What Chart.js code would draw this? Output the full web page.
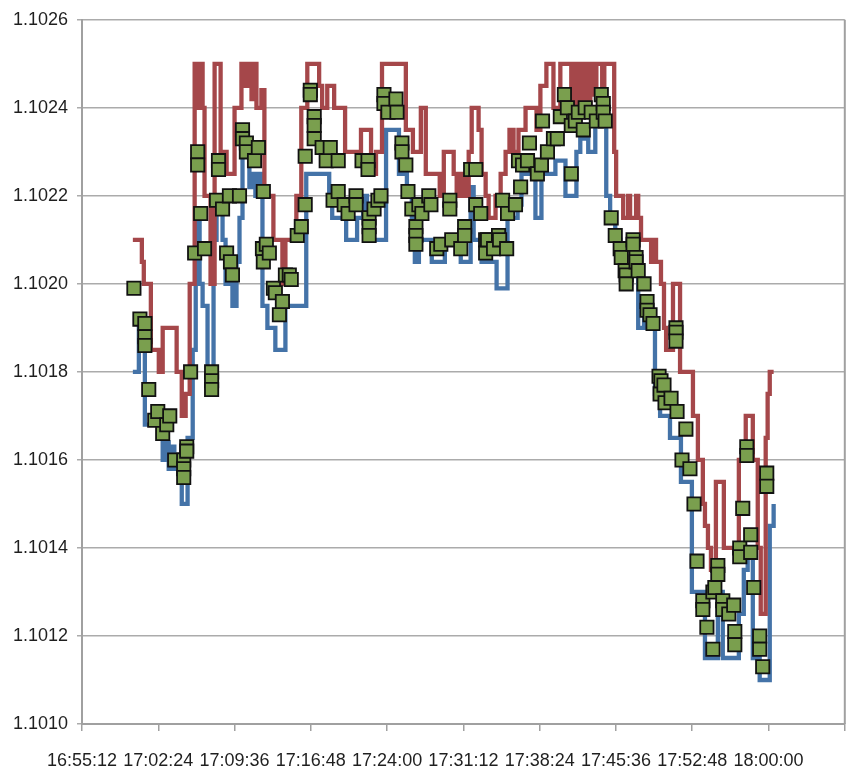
<!DOCTYPE html>
<html>
<head>
<meta charset="utf-8">
<script src="https://cdn.jsdelivr.net/npm/chart.js@4.4.1/dist/chart.umd.min.js"></script>
<style>
  html, body { margin: 0; padding: 0; background: #fff; }
</style>
</head>
<body>
<canvas id="quoteChart" width="856" height="769"></canvas>
<script>
// axis range (time of day) and price range
var axisStart = '16:55:12';
var axisEnd = '18:07:12';
var priceTicks = [1.1010, 1.1012, 1.1014, 1.1016, 1.1018, 1.1020, 1.1022, 1.1024, 1.1026];

// trades (green squares)
var tradeTimes = [
  '17:00:06','17:00:40','17:01:08','17:01:08','17:01:08','17:01:30','17:02:04','17:02:21','17:02:49','17:03:12',
  '17:03:29','17:03:57','17:04:48','17:04:48','17:04:48','17:05:05','17:05:05','17:05:27','17:05:50','17:06:07',
  '17:06:07','17:06:24','17:06:46','17:07:26','17:07:26','17:07:26','17:07:54','17:08:05','17:08:05','17:08:28',
  '17:08:51','17:09:07','17:09:13','17:09:24','17:10:04','17:10:21','17:10:21','17:10:43','17:10:43','17:11:29',
  '17:11:51','17:12:14','17:12:19','17:12:19','17:12:36','17:12:53','17:13:16','17:13:27','17:13:50','17:14:07',
  '17:14:24','17:14:46','17:14:57','17:15:31','17:15:54','17:16:16','17:16:16','17:16:45','17:16:45','17:17:07',
  '17:17:07','17:17:07','17:17:52','17:18:15','17:18:38','17:18:54','17:19:23','17:19:23','17:19:57','17:20:19',
  '17:21:04','17:21:04','17:21:38','17:22:12','17:22:12','17:22:18','17:22:18','17:22:18','17:22:46','17:23:08',
  '17:23:25','17:23:42','17:23:42','17:24:05','17:24:50','17:24:56','17:25:24','17:25:24','17:25:46','17:25:58',
  '17:26:20','17:26:43','17:26:43','17:26:43','17:27:00','17:27:17','17:27:56','17:28:08','17:28:41','17:29:04',
  '17:29:55','17:29:55','17:30:06','17:30:57','17:31:19','17:31:19','17:31:53','17:32:22','17:32:22','17:32:50',
  '17:33:18','17:33:18','17:33:29','17:34:03','17:34:31','17:34:37','17:34:54','17:35:17','17:35:22','17:36:07',
  '17:36:24','17:36:36','17:36:47','17:37:15','17:37:26','17:38:11','17:38:34','17:38:40','17:39:08','17:39:42',
  '17:40:04','17:40:21','17:40:44','17:41:01','17:41:23','17:41:23','17:41:46','17:42:03','17:42:31','17:42:42',
  '17:43:16','17:43:45','17:44:13','17:44:24','17:44:24','17:44:35','17:45:09','17:45:32','17:46:00','17:46:06',
  '17:46:28','17:46:34','17:46:34','17:47:13','17:47:13','17:47:30','17:47:30','17:47:42','17:48:15','17:48:32',
  '17:48:32','17:48:49','17:49:06','17:49:40','17:49:46','17:49:51','17:50:08','17:50:14','17:50:48','17:51:16',
  '17:51:16','17:51:16','17:51:22','17:51:50','17:52:12','17:52:35','17:52:58','17:53:15','17:53:48','17:53:48',
  '17:54:11','17:54:45','17:54:45','17:54:56','17:55:13','17:55:13','17:55:41','17:55:41','17:56:15','17:56:43',
  '17:56:49','17:56:49','17:57:17','17:57:17','17:57:34','17:57:57','17:57:57','17:58:19','17:58:19','17:58:36',
  '17:59:10','17:59:10','17:59:27','17:59:50','17:59:50'
];
var tradePrices = [
  1.10199,1.10192,1.10191,1.10188,1.10186,1.10176,1.10169,1.10171,1.10166,1.10168,
  1.10170,1.10160,1.10160,1.10158,1.10156,1.10163,1.10162,1.10180,1.10207,1.10230,
  1.10227,1.10216,1.10208,1.10180,1.10178,1.10176,1.10219,1.10228,1.10226,1.10217,
  1.10207,1.10220,1.10205,1.10202,1.10220,1.10235,1.10233,1.10232,1.10230,1.10228,
  1.10231,1.10208,1.10221,1.10205,1.10209,1.10207,1.10199,1.10198,1.10193,1.10196,
  1.10202,1.10202,1.10201,1.10211,1.10213,1.10229,1.10218,1.10244,1.10243,1.10238,
  1.10236,1.10233,1.10231,1.10228,1.10231,1.10219,1.10228,1.10221,1.10218,1.10216,
  1.10220,1.10218,1.10228,1.10228,1.10226,1.10215,1.10213,1.10211,1.10217,1.10219,
  1.10220,1.10243,1.10241,1.10239,1.10242,1.10239,1.10232,1.10230,1.10227,1.10221,
  1.10217,1.10213,1.10211,1.10209,1.10218,1.10216,1.10220,1.10218,1.10208,1.10209,
  1.10219,1.10217,1.10210,1.10208,1.10213,1.10211,1.10226,1.10226,1.10218,1.10216,
  1.10210,1.10207,1.10210,1.10208,1.10211,1.10210,1.10219,1.10208,1.10216,1.10218,
  1.10228,1.10222,1.10227,1.10228,1.10232,1.10225,1.10227,1.10237,1.10230,1.10233,
  1.10233,1.10238,1.10243,1.10240,1.10225,1.10236,1.10237,1.10239,1.10235,1.10240,
  1.10239,1.10237,1.10243,1.10241,1.10239,1.10237,1.10215,1.10211,1.10208,1.10206,
  1.10203,1.10202,1.10200,1.10210,1.10209,1.10206,1.10205,1.10203,1.10200,1.10196,
  1.10194,1.10193,1.10191,1.10179,1.10175,1.10178,1.10177,1.10173,1.10174,1.10190,
  1.10189,1.10187,1.10171,1.10160,1.10167,1.10158,1.10150,1.10137,1.10128,1.10126,
  1.10122,1.10117,1.10130,1.10131,1.10136,1.10134,1.10128,1.10126,1.10125,1.10127,
  1.10121,1.10118,1.10140,1.10138,1.10149,1.10163,1.10161,1.10143,1.10139,1.10131,
  1.10120,1.10117,1.10113,1.10157,1.10154
];

// ask quotes (red step line)
var askTimes = [
  '17:00:00','17:00:51','17:01:02','17:01:42','17:02:27','17:02:49','17:04:08','17:04:37','17:04:59','17:05:22',
  '17:05:50','17:06:07','17:06:18','17:06:35','17:06:46','17:07:20','17:07:43','17:08:17','17:08:51','17:09:36',
  '17:10:15','17:10:38','17:10:55','17:11:12','17:11:23','17:11:40','17:12:08','17:12:25','17:13:16','17:14:07',
  '17:14:24','17:15:26','17:15:54','17:16:28','17:17:35','17:17:52','17:18:21','17:19:00','17:20:02','17:21:32',
  '17:22:29','17:22:57','17:23:31','17:25:46','17:26:26','17:27:11','17:27:39','17:28:58','17:29:21','17:30:17',
  '17:30:34','17:30:57','17:31:19','17:31:42','17:31:59','17:32:38','17:32:55','17:33:18','17:33:35','17:34:14',
  '17:34:43','17:35:11','17:35:33','17:35:56','17:36:24','17:37:04','17:38:06','17:38:28','17:39:02','17:39:42',
  '17:40:21','17:41:23','17:41:35','17:41:52','17:42:03','17:42:20','17:42:37','17:42:54','17:43:11','17:43:28',
  '17:43:45','17:44:18','17:44:30','17:45:26','17:45:37','17:46:17','17:46:45','17:46:56','17:47:30','17:47:42',
  '17:47:58','17:48:55','17:49:06','17:49:23','17:49:51','17:50:08','17:50:20','17:50:59','17:51:39','17:52:52',
  '17:53:20','17:53:48','17:54:00','17:54:17','17:54:34','17:55:02','17:55:47','17:57:12','17:57:51','17:58:31',
  '17:58:59','17:59:16','17:59:44','17:59:55','18:00:07','18:00:29'
];
var askPrices = [
  1.10210,1.10205,1.10200,1.10185,1.10180,1.10190,1.10180,1.10170,1.10175,1.10200,
  1.10250,1.10240,1.10250,1.10240,1.10220,1.10200,1.10250,1.10230,1.10225,1.10240,
  1.10250,1.10245,1.10250,1.10242,1.10250,1.10240,1.10244,1.10220,1.10210,1.10200,
  1.10210,1.10220,1.10240,1.10250,1.10245,1.10240,1.10245,1.10240,1.10230,1.10235,
  1.10225,1.10230,1.10250,1.10235,1.10230,1.10240,1.10225,1.10220,1.10230,1.10225,
  1.10220,1.10225,1.10220,1.10230,1.10240,1.10235,1.10225,1.10220,1.10215,1.10220,
  1.10225,1.10230,1.10235,1.10230,1.10235,1.10240,1.10235,1.10245,1.10250,1.10240,
  1.10250,1.10240,1.10250,1.10240,1.10250,1.10238,1.10250,1.10240,1.10250,1.10243,
  1.10250,1.10245,1.10250,1.10230,1.10220,1.10215,1.10220,1.10215,1.10220,1.10215,
  1.10210,1.10205,1.10210,1.10205,1.10200,1.10190,1.10185,1.10200,1.10180,1.10170,
  1.10160,1.10150,1.10145,1.10140,1.10135,1.10155,1.10140,1.10160,1.10170,1.10160,
  1.10140,1.10125,1.10165,1.10175,1.10180,1.10180
];

// bid quotes (blue step line)
var bidTimes = [
  '17:00:00','17:00:34','17:01:08','17:02:32','17:02:49','17:03:06','17:03:23','17:03:40','17:03:55','17:04:37',
  '17:05:10','17:05:39','17:05:56','17:06:18','17:06:35','17:07:03','17:07:37','17:07:54','17:08:28','17:08:45',
  '17:09:24','17:09:47','17:10:04','17:10:21','17:11:00','17:11:17','17:11:34','17:11:51','17:12:14','17:12:42',
  '17:13:27','17:14:24','17:16:22','17:18:32','17:18:49','17:20:08','17:21:10','17:21:44','17:22:06','17:23:54',
  '17:25:07','17:25:52','17:26:20','17:26:37','17:27:00','17:28:13','17:29:27','17:30:57','17:31:53','17:32:10',
  '17:32:55','17:34:20','17:35:22','17:36:19','17:36:41','17:37:26','17:38:00','17:38:34','17:39:53','17:40:50',
  '17:41:52','17:42:14','17:42:59','17:43:39','17:44:41','17:45:03','17:45:32','17:46:00','17:46:28','17:47:02',
  '17:47:42','17:48:15','17:48:38','17:49:17','17:49:46','17:50:42','17:51:44','17:52:46','17:54:00','17:55:13',
  '17:55:41','17:57:12','17:57:40','17:58:02','17:58:31','17:59:10','18:00:07','18:00:29'
];
var bidPrices = [
  1.10180,1.10190,1.10168,1.10165,1.10160,1.10164,1.10158,1.10163,1.10158,1.10150,
  1.10165,1.10185,1.10215,1.10200,1.10195,1.10175,1.10210,1.10218,1.10210,1.10200,
  1.10195,1.10205,1.10215,1.10230,1.10222,1.10225,1.10220,1.10225,1.10195,1.10190,
  1.10185,1.10195,1.10225,1.10220,1.10215,1.10210,1.10215,1.10220,1.10210,1.10235,
  1.10225,1.10220,1.10215,1.10205,1.10210,1.10205,1.10210,1.10205,1.10222,1.10210,
  1.10205,1.10199,1.10215,1.10218,1.10225,1.10228,1.10215,1.10225,1.10228,1.10220,
  1.10230,1.10233,1.10230,1.10236,1.10220,1.10215,1.10210,1.10205,1.10200,1.10205,
  1.10190,1.10192,1.10190,1.10175,1.10170,1.10165,1.10155,1.10130,1.10115,1.10130,
  1.10115,1.10125,1.10135,1.10138,1.10115,1.10110,1.10145,1.10150
];

function toSec(t) {
  var p = t.split(':');
  return (+p[0]) * 3600 + (+p[1]) * 60 + (+p[2]);
}
function pad(n) { return (n < 10 ? '0' : '') + n; }
function pairs(times, prices) {
  return times.map(function (t, i) { return { x: toSec(t), y: prices[i] }; });
}

var labelFont = { family: "'Liberation Sans', Arial, sans-serif", size: 18 };
var axisColor = '#a0a0a0';
var xMin = toSec(axisStart);
var xMax = toSec(axisEnd);

// right edge of the plot frame
var frameRight = {
  id: 'frameRight',
  afterDraw: function (chart) {
    var a = chart.chartArea, ctx = chart.ctx;
    ctx.save();
    ctx.strokeStyle = axisColor;
    ctx.lineWidth = 2;
    ctx.beginPath();
    ctx.moveTo(a.right, a.top);
    ctx.lineTo(a.right, a.bottom);
    ctx.stroke();
    ctx.restore();
  }
};

var quoteChart = new Chart(document.getElementById('quoteChart'), {
  type: 'scatter',
  data: {
    datasets: [{
      label: 'Trades',
      data: pairs(tradeTimes, tradePrices),
      pointStyle: 'rect',
      pointRadius: 9.4,
      backgroundColor: '#7a9f4e',
      borderColor: '#111111',
      borderWidth: 1.8
    }, {
      label: 'Ask',
      type: 'line',
      data: pairs(askTimes, askPrices),
      stepped: 'before',
      borderColor: '#a5474a',
      borderWidth: 4.3,
      pointRadius: 0,
      fill: false
    }, {
      label: 'Bid',
      type: 'line',
      data: pairs(bidTimes, bidPrices),
      stepped: 'before',
      borderColor: '#4473a8',
      borderWidth: 4.3,
      pointRadius: 0,
      fill: false
    }]
  },
  options: {
    responsive: false,
    animation: false,
    devicePixelRatio: 1,
    layout: { padding: { top: 15, right: 8, left: 0, bottom: 0 } },
    plugins: { legend: { display: false }, tooltip: { enabled: false } },
    scales: {
      x: {
        type: 'linear',
        min: xMin,
        max: xMax,
        afterFit: function (s) { s.height = 45; s.paddingRight = 0; },
        grid: { drawOnChartArea: false, drawTicks: true, tickLength: 7, color: axisColor, lineWidth: 1.5 },
        border: { color: axisColor, width: 2 },
        ticks: {
          stepSize: 432,
          autoSkip: false,
          maxRotation: 0,
          minRotation: 0,
          padding: 19,
          color: '#1f1f1f',
          font: labelFont,
          callback: function (value) {
            if (value >= xMax - 1) return '';
            var s = Math.round(value);
            return Math.floor(s / 3600) + ':' + pad(Math.floor(s % 3600 / 60)) + ':' + pad(s % 60);
          }
        }
      },
      y: {
        min: priceTicks[0],
        max: priceTicks[priceTicks.length - 1],
        afterFit: function (s) { s.width = 82; },
        afterBuildTicks: function (s) { s.ticks = priceTicks.map(function (v) { return { value: v }; }); },
        grid: { color: '#ababab', lineWidth: 1.5, tickLength: 5 },
        border: { color: axisColor, width: 2 },
        ticks: {
          padding: 9,
          color: '#1f1f1f',
          font: labelFont,
          callback: function (value) { return Number(value).toFixed(4); }
        }
      }
    }
  },
  plugins: [frameRight]
});
</script>
</body>
</html>
